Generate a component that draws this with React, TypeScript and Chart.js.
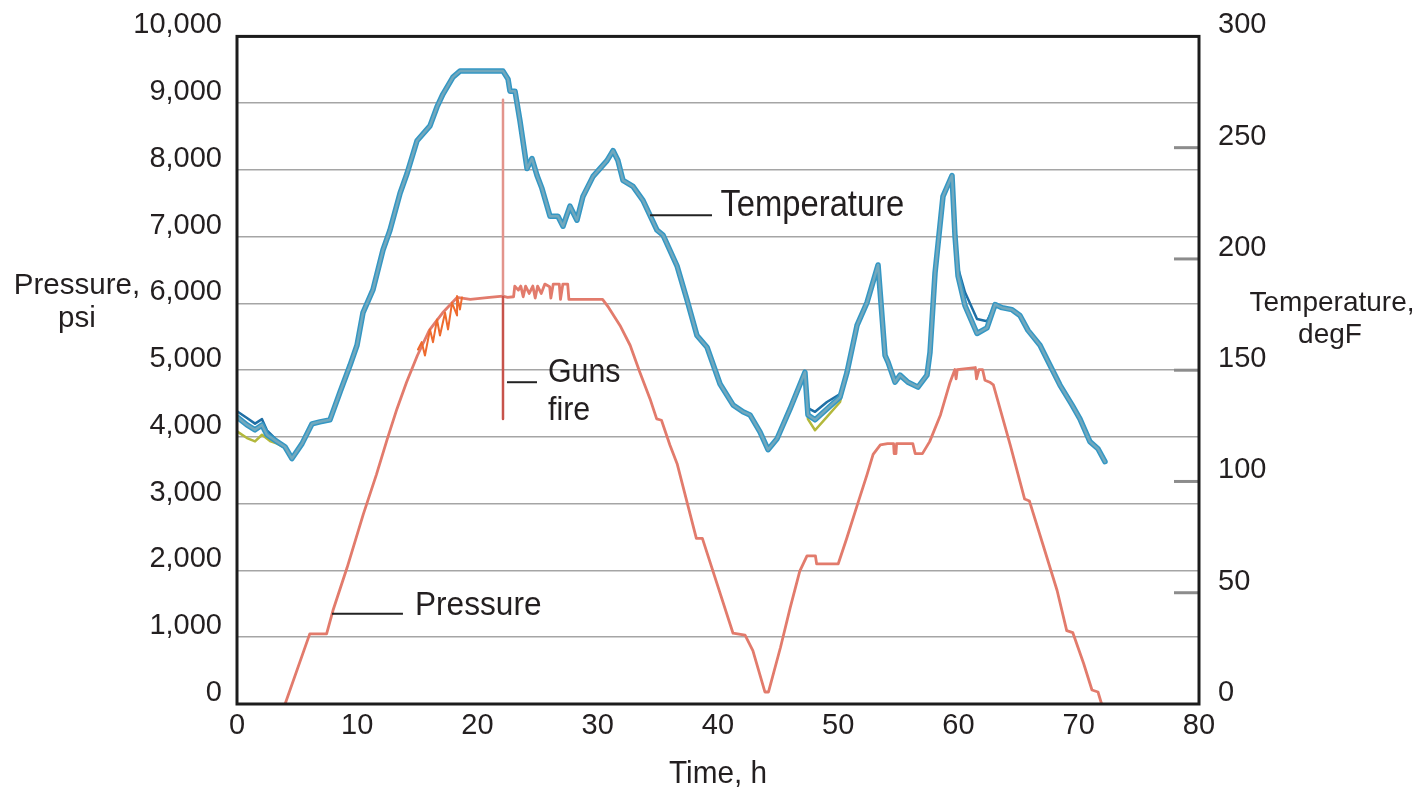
import React, { useEffect, useRef } from "react";
import { Chart, registerables } from "chart.js";

Chart.register(...registerables);

// ---------- axis ticks ----------
const timeTicks = [0, 10, 20, 30, 40, 50, 60, 70, 80];
const pressureTicks = [0, 1000, 2000, 3000, 4000, 5000, 6000, 7000, 8000, 9000, 10000];
const temperatureTicks = [0, 50, 100, 150, 200, 250, 300];

// ---------- pressure (psi) vs time (h) ----------
const pressureTime = [
  4.0, 6.05, 7.45, 7.98, 9.15, 10.5, 11.6, 12.5, 13.3, 14.1, 15.0, 16.0, 17.1, 18.3, 19.4, 21.0, 22.1, 22.5,
  23.0, 23.1, 23.4, 23.6, 23.8, 24.0, 24.3, 24.6, 24.8, 25.0, 25.3, 25.6, 26.0, 26.1, 26.3, 26.8, 26.9, 27.1,
  27.5, 27.6, 30.4, 30.9, 31.85, 32.7, 33.5, 34.35, 34.9, 35.3, 36.0, 36.6, 38.2, 38.7, 41.25, 42.25, 42.9,
  43.9, 44.2, 45.2, 46.0, 46.8, 47.4, 48.1, 48.2, 50.0, 50.7, 51.6, 52.4, 52.9, 53.5, 54.1, 54.6, 54.65, 54.8,
  54.85, 56.2, 56.4, 57.0, 57.6, 58.5, 59.3, 59.7, 59.8, 59.9, 61.4, 61.5, 61.7, 62.0, 62.2, 62.6, 62.9, 64.3,
  65.5, 65.9, 67.0, 68.2, 69.0, 69.5, 70.4, 71.1, 71.6, 71.9,
];
const pressurePsi = [
  0, 1050, 1050, 1400, 2040, 2840, 3440, 3970, 4420, 4820, 5220, 5600, 5860, 6090, 6060, 6090, 6110, 6090,
  6100, 6260, 6200, 6260, 6100, 6260, 6150, 6260, 6080, 6260, 6150, 6290, 6250, 6080, 6290, 6290, 6060, 6290,
  6290, 6060, 6060, 5940, 5670, 5370, 4970, 4570, 4270, 4250, 3880, 3600, 2480, 2480, 1060, 1030, 800,
  180, 180, 850, 1440, 1990, 2220, 2220, 2100, 2100, 2480, 2990, 3440, 3740, 3880, 3900, 3900, 3750, 3750,
  3900, 3900, 3750, 3750, 3930, 4330, 4820, 5010, 4870, 5010, 5040, 4870, 5010, 5010, 4850, 4820, 4780, 3880,
  3070, 3040, 2400, 1700, 1100, 1070, 610, 210, 180, 0,
];

// second pressure gauge (orange saw-tooth while pressuring up)
const sawTime = [15.05, 15.36, 15.63, 16.05, 16.3, 16.63, 16.88, 17.3, 17.55, 17.88, 18.3, 18.3, 18.54, 18.71];
const sawPsi = [5310, 5420, 5220, 5610, 5420, 5760, 5520, 5860, 5610, 6010, 5820, 6110, 5910, 6090];

// guns fire spike
const gunsTime = [22.12, 22.12, 22.12];
const gunsPsi = [9050, 6100, 4270];

// ---------- temperature (degF) vs time (h) ----------
const tempTime = [
  0, 0.83, 1.5, 2.08, 2.49, 3.33, 3.99, 4.57, 5.41, 6.24, 6.9, 7.73, 8.57, 9.4, 9.98, 10.48, 11.31, 12.14,
  12.72, 13.56, 14.14, 14.97, 16.05, 16.63, 17.13, 17.96, 18.54, 19.38, 22.12, 22.54, 22.7, 23.12, 23.53,
  24.12, 24.53, 24.95, 25.36, 26.03, 26.69, 27.11, 27.69, 28.27, 28.77, 29.61, 30.77, 31.27, 31.68, 32.1,
  32.93, 33.76, 34.93, 35.43, 36.59, 37.42, 38.25, 39.09, 40.17, 41.25, 42.08, 42.66, 43.49, 44.16, 44.91,
  45.99, 47.23, 47.48, 48.07, 49.06, 50.15, 50.73, 51.56, 52.39, 53.31, 53.89, 54.14, 54.72, 55.14, 55.8,
  56.63, 57.38, 57.63, 58.05, 58.71, 59.46, 59.71, 59.96, 60.54, 61.54, 62.37, 63.04, 63.62, 64.45, 65.11,
  65.78, 66.78, 67.61, 68.44, 69.44, 70.1, 70.93, 71.6, 72.18,
];
const tempDegF = [
  129, 125.4, 123.2, 125.4, 121, 117.9, 115.6, 110.3, 117, 125.9, 126.8, 127.7, 140.2, 152.2, 161.2, 175.9,
  186.2, 204, 212.9, 229.5, 238.4, 253.1, 259.8, 268.3, 274.1, 281.7, 284.4, 284.4, 284.4, 280.8, 275.4,
  275.4, 262.1, 240.6, 245.1, 237.5, 231.7, 219.2, 219.2, 214.7, 223.7, 217.4, 228.1, 237.1, 244.2, 248.7,
  244.2, 235.3, 232.6, 226.3, 212.9, 210.7, 196.9, 181.7, 165.6, 160.3, 143.8, 134.4, 131.3, 129.9, 122.3,
  114.3, 119.2, 132.6, 149.1, 129.9, 127.7, 132.6, 137.9, 149.1, 170.1, 180.4, 197.3, 156.7, 153.6, 144.6,
  147.8, 144.6, 142.4, 147.8, 158, 193.8, 228.1, 237.5, 210.3, 192.4, 179, 166.5, 169, 179.5, 178.1, 177.2,
  174.6, 167.9, 161.2, 152.2, 143.3, 134.4, 128.1, 117.9, 114.7, 108.9,
];

// other temperature gauges where they part from the main trace (null = gap)
const gauge2Time = [0, 0.83, 1.5, 2.08, 2.49, 3.33, 3.99, 4.2, 47.23, 47.48, 48.07, 49.06, 50.15, 50.73, 51.0, 59.71, 59.96, 60.54, 61.54, 62.37, 63.04];
const gauge2DegF = [131.5, 128.5, 126, 128, 123, 118.5, 115.6, null, 149.1, 133, 131.3, 135.7, 139.3, 149.1, null, 210.3, 196, 185, 173, 172, 179.5];
const gauge3Time = [0, 0.83, 1.5, 2.08, 2.8, 3.33, 3.99, 4.2, 47.23, 47.48, 48.07, 49.06, 50.15, 50.73];
const gauge3DegF = [122.5, 119.5, 118, 121, 118, 117, 115.2, null, 149.1, 128, 123, 129, 135.7, 149.1];

const toPoints = (xs: number[], ys: (number | null)[]) => xs.map((x, i) => ({ x, y: ys[i] }));

const FONT = '"Liberation Sans", Arial, Helvetica, sans-serif';
const TEXT = "#231f20";

function condText(ctx: CanvasRenderingContext2D, text: string, x: number, y: number, size: number, sx: number, align: CanvasTextAlign) {
  ctx.save();
  ctx.font = `${size}px ${FONT}`;
  ctx.fillStyle = TEXT;
  ctx.textBaseline = "alphabetic";
  ctx.textAlign = align;
  ctx.translate(x, y);
  ctx.scale(sx, 1);
  ctx.fillText(text, 0, 0);
  ctx.restore();
}

const decorPlugin = {
  id: "decor",
  afterDraw(chart: any) {
    const { ctx, chartArea: a, scales } = chart;
    const xs = scales.x;
    const ys = scales.y;
    const y2 = scales.y2;
    ctx.save();
    // inner tick marks of the temperature axis
    ctx.strokeStyle = "#8c8c8c";
    ctx.lineWidth = 3;
    temperatureTicks.slice(1, -1).forEach((v) => {
      const py = y2.getPixelForValue(v);
      ctx.beginPath();
      ctx.moveTo(a.right - 25, py);
      ctx.lineTo(a.right, py);
      ctx.stroke();
    });
    // plot frame
    ctx.strokeStyle = "#1c1c1c";
    ctx.lineWidth = 3;
    ctx.strokeRect(a.left, a.top, a.right - a.left, a.bottom - a.top);

    // leader lines
    ctx.strokeStyle = "#222";
    ctx.lineWidth = 2;
    const leader = (t1: number, t2: number, p: number) => {
      const py = ys.getPixelForValue(p);
      ctx.beginPath();
      ctx.moveTo(xs.getPixelForValue(t1), py);
      ctx.lineTo(xs.getPixelForValue(t2), py);
      ctx.stroke();
    };
    leader(34.35, 39.5, 7320);
    leader(7.9, 13.8, 1350);
    leader(22.45, 24.95, 4820);
    ctx.restore();

    // annotations
    condText(ctx, "Temperature", xs.getPixelForValue(40.2), ys.getPixelForValue(7306), 36, 0.91, "left");
    condText(ctx, "Pressure", xs.getPixelForValue(14.8), ys.getPixelForValue(1340), 34, 0.93, "left");
    condText(ctx, "Guns", xs.getPixelForValue(25.86), ys.getPixelForValue(4820), 33, 0.92, "left");
    condText(ctx, "fire", xs.getPixelForValue(25.86), ys.getPixelForValue(4255), 33, 0.92, "left");

    // axis titles
    condText(ctx, "Time, h", 718, 783, 32, 0.93, "center");
    condText(ctx, "Pressure,", 77, 294, 29, 1.02, "center");
    condText(ctx, "psi", 77, 327, 29, 1.02, "center");
    condText(ctx, "Temperature,", 1332, 311, 28, 1, "center");
    condText(ctx, "degF", 1330, 343, 28, 1, "center");
  },
};

export default function App() {
  const ref = useRef<HTMLCanvasElement>(null);
  useEffect(() => {
    Chart.defaults.font.family = FONT;
    const line = (data: any[], color: string, width: number, order: number, extra: any = {}) => ({
      data,
      borderColor: color,
      borderWidth: width,
      pointRadius: 0,
      tension: 0,
      fill: false,
      spanGaps: false,
      borderJoinStyle: "round",
      borderCapStyle: "round",
      order,
      ...extra,
    });
    const chart = new Chart(ref.current as HTMLCanvasElement, {
      type: "line",
      data: {
        datasets: [
          line(toPoints(tempTime, tempDegF), "#72a8bd", 2.5, 1, { yAxisID: "y2", label: "Temperature" }),
          line(toPoints(tempTime, tempDegF), "#3497c4", 5.5, 2, { yAxisID: "y2", label: "Temperature edge" }),
          line(toPoints(gauge2Time, gauge2DegF), "#1f6fa5", 2.5, 3, { yAxisID: "y2", label: "Gauge 2" }),
          line(toPoints(gauge3Time, gauge3DegF), "#b3b83c", 2.5, 4, { yAxisID: "y2", label: "Gauge 3" }),
          line(toPoints(gunsTime, gunsPsi), "#e08a82", 2.5, 5, {
            yAxisID: "y",
            label: "Guns fire",
            segment: { borderColor: (c: any) => (c.p0DataIndex === 0 ? "#e3948c" : "#c7534b") },
          }),
          line(toPoints(sawTime, sawPsi), "#ee6a2e", 2, 6, { yAxisID: "y", label: "Pressure gauge 2" }),
          line(toPoints(pressureTime, pressurePsi), "#e27b6c", 2.8, 7, { yAxisID: "y", label: "Pressure" }),
        ],
      },
      options: {
        animation: false,
        responsive: true,
        maintainAspectRatio: false,
        devicePixelRatio: 1,
        layout: { padding: { top: 32, left: 0, right: 0, bottom: 0 } },
        plugins: { legend: { display: false }, tooltip: { enabled: false }, title: { display: false } },
        scales: {
          x: {
            type: "linear",
            min: 0,
            max: 80,
            afterBuildTicks: (s: any) => {
              s.ticks = timeTicks.map((v) => ({ value: v }));
            },
            ticks: { font: { size: 29 }, color: TEXT, padding: 5, maxRotation: 0, autoSkip: false },
            grid: { display: false, drawTicks: false },
            border: { display: false },
            afterFit: (s: any) => {
              s.height = 102;
            },
          },
          y: {
            type: "linear",
            position: "left",
            min: 0,
            max: 10000,
            afterBuildTicks: (s: any) => {
              s.ticks = pressureTicks.map((v) => ({ value: v }));
            },
            ticks: {
              font: { size: 29 },
              color: TEXT,
              padding: 15,
              labelOffset: -11,
              autoSkip: false,
              callback: (v: any) => Number(v).toLocaleString("en-US"),
            },
            grid: { color: "#a5a5a5", lineWidth: 1.5, drawTicks: false },
            border: { display: false },
            afterFit: (s: any) => {
              s.width = 237;
            },
          },
          y2: {
            type: "linear",
            position: "right",
            min: 0,
            max: 300,
            afterBuildTicks: (s: any) => {
              s.ticks = temperatureTicks.map((v) => ({ value: v }));
            },
            ticks: { font: { size: 29 }, color: TEXT, padding: 19, labelOffset: -11, autoSkip: false },
            grid: { drawOnChartArea: false, drawTicks: false },
            border: { display: false },
            afterFit: (s: any) => {
              s.width = 228;
            },
          },
        },
      },
      plugins: [decorPlugin],
    } as any);
    return () => chart.destroy();
  }, []);
  return (
    <div style={{ position: "fixed", left: 0, top: 0, width: 1427, height: 806, background: "#ffffff" }}>
      <canvas ref={ref} />
    </div>
  );
}
